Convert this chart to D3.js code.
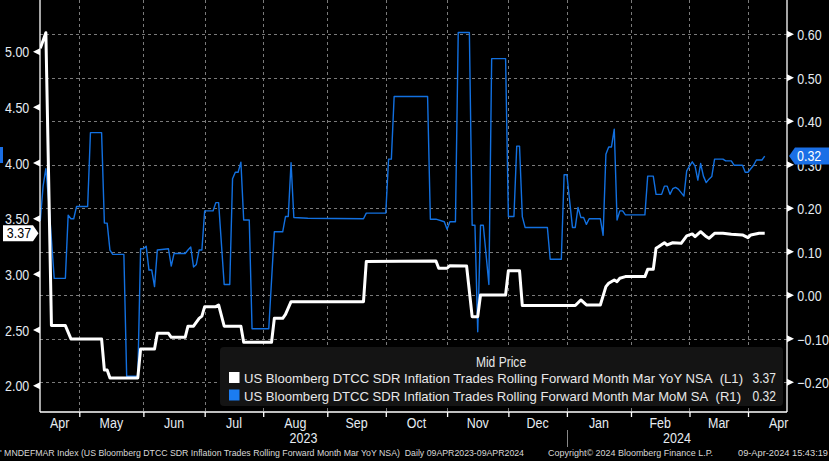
<!DOCTYPE html>
<html><head><meta charset="utf-8">
<script src="https://cdn.jsdelivr.net/npm/d3@7"></script>
<style>html,body{margin:0;padding:0;background:#000;overflow:hidden}</style>
</head><body><svg id="c" width="829" height="461"></svg>
<script>
// ---------------- DATA ----------------
const yoyPoints = [
["2023-04-11",5.03],["2023-04-13",5.17],["2023-04-17",2.54],["2023-04-24",2.54],["2023-04-26",2.42],
["2023-05-11",2.42],["2023-05-12",2.14],["2023-05-15",2.14],["2023-05-16",2.07],["2023-05-30",2.07],
["2023-05-31",2.33],["2023-06-07",2.33],["2023-06-08",2.47],["2023-06-14",2.47],["2023-06-15",2.435],
["2023-06-22",2.435],["2023-06-23",2.535],["2023-06-27",2.535],["2023-06-29",2.605],["2023-06-30",2.625],
["2023-07-03",2.71],["2023-07-07",2.71],["2023-07-10",2.725],["2023-07-12",2.535],["2023-07-20",2.535],
["2023-07-21",2.39],["2023-08-04",2.39],["2023-08-07",2.605],["2023-08-10",2.605],["2023-08-11",2.64],
["2023-08-15",2.755],["2023-09-20",2.755],["2023-09-21",3.115],["2023-10-26",3.12],["2023-10-27",3.055],
["2023-11-01",3.055],["2023-11-02",3.078],["2023-11-10",3.075],["2023-11-14",2.62],["2023-11-16",2.62],
["2023-11-17",2.815],["2023-11-30",2.815],["2023-12-01",3.033],["2023-12-07",3.033],["2023-12-08",2.72],
["2024-01-04",2.72],["2024-01-08",2.77],["2024-01-10",2.725],["2024-01-17",2.725],["2024-01-19",2.89],
["2024-01-22",2.92],["2024-01-24",2.95],["2024-01-25",2.935],["2024-01-26",2.965],["2024-01-30",2.98],
["2024-02-08",2.98],["2024-02-09",3.045],["2024-02-13",3.045],["2024-02-14",3.234],["2024-02-15",3.25],
["2024-02-19",3.284],["2024-02-20",3.264],["2024-02-22",3.284],["2024-02-27",3.279],["2024-02-29",3.345],
["2024-03-04",3.363],["2024-03-05",3.339],["2024-03-07",3.383],["2024-03-11",3.34],["2024-03-12",3.324],
["2024-03-14",3.369],["2024-03-19",3.37],["2024-03-22",3.36],["2024-03-28",3.354],["2024-04-01",3.33],
["2024-04-02",3.354],["2024-04-05",3.37],["2024-04-09",3.37]
];
const momPoints = [
["2023-04-11",0.171],["2023-04-12",0.251],["2023-04-13",0.291],["2023-04-14",0.217],["2023-04-18",0.039],
["2023-04-24",0.039],["2023-04-25",0.184],["2023-04-26",0.176],["2023-04-27",0.176],["2023-04-28",0.204],
["2023-05-04",0.204],["2023-05-05",0.374],["2023-05-11",0.374],["2023-05-12",0.166],["2023-05-15",0.166],
["2023-05-16",0.104],["2023-05-17",0.094],["2023-05-23",0.094],["2023-05-24",-0.186],["2023-05-30",-0.186],
["2023-05-31",0.107],["2023-06-01",0.107],["2023-06-02",0.113],["2023-06-05",0.058],["2023-06-06",0.058],
["2023-06-07",0.02],["2023-06-08",0.104],["2023-06-14",0.107],["2023-06-15",0.067],["2023-06-16",0.096],
["2023-06-22",0.096],["2023-06-23",0.104],["2023-06-26",0.111],["2023-06-27",0.065],["2023-06-28",0.071],
["2023-06-29",0.104],["2023-06-30",0.104],["2023-07-03",0.194],["2023-07-06",0.194],["2023-07-07",0.213],
["2023-07-10",0.213],["2023-07-12",0.025],["2023-07-14",0.025],["2023-07-17",0.268],["2023-07-18",0.283],
["2023-07-19",0.283],["2023-07-20",0.306],["2023-07-21",0.173],["2023-07-25",0.173],["2023-07-26",-0.077],
["2023-08-03",-0.077],["2023-08-07",0.146],["2023-08-10",0.146],["2023-08-11",0.181],["2023-08-14",0.181],
["2023-08-15",0.305],["2023-08-16",0.179],["2023-08-23",0.177],["2023-09-20",0.176],["2023-09-21",0.189],
["2023-10-02",0.189],["2023-10-03",0.313],["2023-10-04",0.313],["2023-10-05",0.457],["2023-10-23",0.457],
["2023-10-24",0.175],["2023-10-26",0.175],["2023-10-31",0.169],["2023-11-01",0.152],["2023-11-02",0.169],
["2023-11-06",0.169],["2023-11-07",0.604],["2023-11-13",0.604],["2023-11-14",0.161],["2023-11-15",0.161],
["2023-11-16",-0.084],["2023-11-17",0.161],["2023-11-20",0.161],["2023-11-22",0.025],["2023-11-23",0.544],
["2023-11-30",0.544],["2023-12-01",0.181],["2023-12-05",0.181],["2023-12-06",0.343],["2023-12-07",0.343],
["2023-12-08",0.181],["2023-12-11",0.156],["2023-12-21",0.156],["2023-12-22",0.083],["2023-12-28",0.083],
["2023-12-29",0.277],["2024-01-01",0.277],["2024-01-03",0.156],["2024-01-04",0.156],["2024-01-05",0.202],
["2024-01-08",0.179],["2024-01-09",0.179],["2024-01-10",0.163],["2024-01-11",0.176],["2024-01-17",0.176],
["2024-01-18",0.138],["2024-01-19",0.324],["2024-01-22",0.341],["2024-01-23",0.341],["2024-01-24",0.382],
["2024-01-25",0.173],["2024-01-26",0.194],["2024-01-29",0.194],["2024-01-30",0.185],["2024-02-08",0.185],
["2024-02-09",0.274],["2024-02-13",0.274],["2024-02-14",0.232],["2024-02-16",0.232],["2024-02-19",0.251],
["2024-02-20",0.251],["2024-02-21",0.232],["2024-02-22",0.245],["2024-02-23",0.248],["2024-02-26",0.244],
["2024-02-28",0.228],["2024-02-29",0.286],["2024-03-01",0.297],["2024-03-04",0.307],["2024-03-05",0.297],
["2024-03-06",0.265],["2024-03-07",0.303],["2024-03-08",0.274],["2024-03-11",0.259],["2024-03-12",0.267],
["2024-03-13",0.273],["2024-03-14",0.313],["2024-03-19",0.313],["2024-03-20",0.309],["2024-03-22",0.309],
["2024-03-25",0.299],["2024-03-28",0.299],["2024-03-29",0.283],["2024-04-01",0.283],["2024-04-03",0.299],
["2024-04-04",0.311],["2024-04-08",0.311],["2024-04-09",0.32]
];
const monthStarts = ["2023-04-01","2023-05-01","2023-06-01","2023-07-01","2023-08-01","2023-09-01","2023-10-01",
  "2023-11-01","2023-12-01","2024-01-01","2024-02-01","2024-03-01","2024-04-01","2024-05-01"];
const monthLabels = ["Apr","May","Jun","Jul","Aug","Sep","Oct","Nov","Dec","Jan","Feb","Mar","Apr"];
const yearLabels = ["2023","2024"];
const yearStarts = ["2023-01-01","2024-01-01","2025-01-01"];
const leftTicks = [2.0,2.5,3.0,3.5,4.0,4.5,5.0];
const leftMinor = [2.25,2.75,3.25,3.75,4.25,4.75,5.25];
const rightTicks = [-0.2,-0.1,0.0,0.1,0.2,0.3,0.4,0.5,0.6];
const rightMinor = [-0.25,-0.15,-0.05,0.05,0.15,0.25,0.35,0.45,0.55,0.65];
const legendTitle = "Mid Price";
const seriesNames = ["US Bloomberg DTCC SDR Inflation Trades Rolling Forward Month Mar YoY NSA\u00A0\u00A0(L1)",
                     "US Bloomberg DTCC SDR Inflation Trades Rolling Forward Month Mar MoM SA\u00A0\u00A0(R1)"];
const lastValues = ["3.37","0.32"];
const footerLeft = "' MNDEFMAR Index (US Bloomberg DTCC SDR Inflation Trades Rolling Forward Month Mar YoY NSA)\u00A0\u00A0Daily 09APR2023-09APR2024";
const footerMid = "Copyright\u00A9 2024 Bloomberg Finance L.P.";
const footerRight = "09-Apr-2024 15:43:19";

// ---------------- SETUP ----------------
const W = 829, H = 461;
const P = {l:40, r:787, t:0, b:412};
const WHITE = "#ffffff", BLUE = "#1270e0", LBL = "#e6ecf2";
const FONT = "'Liberation Sans', Arial, sans-serif";
const SX = 0.86;
const svg = d3.select("#c");
svg.append("rect").attr("width",W).attr("height",H).attr("fill","#000");

const parse = d3.timeParse("%Y-%m-%d");
const base = new Date(2023,3,10); // Monday
function bizIndex(d){ const days = d3.timeDay.count(base,d); const w = Math.floor(days/7); const r = days - w*7; return w*5 + Math.min(r,5); }

const x = d3.scaleLinear().domain([15,255]).range([79.3,748]);
const yL = d3.scaleLinear().domain([2,5]).range([385.7,51.7]);
const yR = d3.scaleLinear().domain([-0.2,0.6]).range([382.3,34.3]);

const defs = svg.append("defs");
defs.append("clipPath").attr("id","clip").append("rect")
  .attr("x",P.l).attr("y",P.t).attr("width",P.r-P.l).attr("height",P.b-P.t);

// grid
const grid = svg.append("g").attr("stroke","#7a7a7a").attr("stroke-width",1).attr("stroke-dasharray","3,3");
rightTicks.forEach(v=>{ const yy = Math.round(yR(v))+0.5;
  grid.append("line").attr("x1",P.l).attr("x2",P.r).attr("y1",yy).attr("y2",yy); });
const msIdx = monthStarts.map(s=>bizIndex(parse(s)));
msIdx.forEach(i=>{ const xx = x(i); if (xx>P.l+2 && xx<P.r-2){ const X = Math.round(xx)+0.5;
  grid.append("line").attr("x1",X).attr("x2",X).attr("y1",P.t).attr("y2",P.b); }});

// series
const lines = svg.append("g").attr("clip-path","url(#clip)");
const momData = momPoints.map(d=>({i:bizIndex(parse(d[0])), v:d[1]}));
const yoyData = yoyPoints.map(d=>({i:bizIndex(parse(d[0])), v:d[1]}));
lines.append("path").datum(momData).attr("fill","none").attr("stroke",BLUE).attr("stroke-width",1.4)
  .attr("stroke-linejoin","round")
  .attr("d", d3.line().x(d=>x(d.i)).y(d=>yR(d.v)));
lines.append("path").datum(yoyData).attr("fill","none").attr("stroke",WHITE).attr("stroke-width",3)
  .attr("stroke-linejoin","round")
  .attr("d", d3.line().x(d=>x(d.i)).y(d=>yL(d.v)));

// axes lines
const ax = svg.append("g").attr("stroke",WHITE).attr("stroke-width",1.3);
ax.append("line").attr("x1",P.l).attr("x2",P.l).attr("y1",0).attr("y2",P.b);
ax.append("line").attr("x1",P.r).attr("x2",P.r).attr("y1",0).attr("y2",P.b);
ax.append("line").attr("x1",P.l).attr("x2",P.r).attr("y1",P.b).attr("y2",P.b);

// left axis
const gL = svg.append("g").attr("transform",`translate(${P.l},0)`);
gL.call(d3.axisLeft(yL).tickValues(leftMinor).tickSize(4).tickFormat(""));
gL.call(d3.axisLeft(yL).tickValues(leftTicks).tickSize(0).tickPadding(12.5).tickFormat(d3.format(".2f")));
gL.selectAll(".domain").remove();
gL.selectAll("line").attr("stroke",WHITE).attr("stroke-width",1.3);
gL.selectAll("text").attr("fill",LBL).attr("font-size",14.5).attr("font-family",FONT)
  .attr("transform",`scale(${SX},1)`).attr("dy","0.36em");
leftTicks.forEach(v=>{ const yy=yL(v);
  svg.append("path").attr("d",`M${P.l},${yy-3.5}L${P.l-7},${yy}L${P.l},${yy+3.5}Z`).attr("fill",WHITE); });

// right axis
const gR = svg.append("g").attr("transform",`translate(${P.r},0)`);
gR.call(d3.axisRight(yR).tickValues(rightMinor.filter(v=>yR(v)>2&&yR(v)<P.b)).tickSize(4).tickFormat(""));
gR.call(d3.axisRight(yR).tickValues(rightTicks).tickSize(0).tickPadding(12).tickFormat(d3.format(".2f")));
gR.selectAll(".domain").remove();
gR.selectAll("line").attr("stroke",WHITE).attr("stroke-width",1.3);
gR.selectAll("text").attr("fill",LBL).attr("font-size",14.5).attr("font-family",FONT)
  .attr("transform",`scale(${SX},1)`).attr("dy","0.36em");
rightTicks.forEach(v=>{ const yy=yR(v);
  svg.append("path").attr("d",`M${P.r},${yy-3.5}L${P.r+7},${yy}L${P.r},${yy+3.5}Z`).attr("fill",WHITE); });

// bottom axis
const gB = svg.append("g").attr("transform",`translate(0,${P.b})`);
gB.call(d3.axisBottom(x).tickValues(msIdx.filter(i=>x(i)>P.l+2 && x(i)<P.r)).tickSize(5).tickFormat(""));
gB.selectAll(".domain").remove();
gB.selectAll("line").attr("stroke",WHITE).attr("stroke-width",1.3);

function ctext(g, xx, yy, t, size, fill, anchor){
  return g.append("text").attr("transform",`translate(${xx},${yy}) scale(${SX},1)`)
    .attr("text-anchor",anchor||"middle").attr("font-family",FONT).attr("font-size",size).attr("fill",fill).text(t);
}
monthLabels.forEach((m,k)=>{
  const a = Math.max(x(msIdx[k]),P.l), b = x(msIdx[k+1]);
  ctext(svg,(a+b)/2,428,m,14.5,LBL);
});
yearLabels.forEach((yl,k)=>{
  const a = Math.max(x(bizIndex(parse(yearStarts[k]))),P.l), b = Math.min(x(bizIndex(parse(yearStarts[k+1]))),P.r);
  ctext(svg,(a+b)/2,443,yl,14.5,LBL);
});
const sepX = Math.round(x(bizIndex(parse(yearStarts[1]))))+0.5;
svg.append("line").attr("x1",sepX).attr("x2",sepX).attr("y1",430).attr("y2",447).attr("stroke","#888").attr("stroke-width",1);

// legend
const lg = svg.append("g");
lg.append("rect").attr("x",220).attr("y",347).attr("width",563).attr("height",59).attr("rx",4).attr("fill","#141414");
ctext(lg,501,367,legendTitle,14,"#e8e8e8");
[WHITE,"#1b7cf2"].forEach((c,k)=>{
  const yy = 383 + k*17.5;
  lg.append("rect").attr("x",229).attr("y",yy-11).attr("width",10.5).attr("height",11).attr("fill",c);
  lg.append("text").attr("x",244).attr("y",yy).attr("font-family",FONT).attr("font-size",13).attr("fill","#e8e8e8")
    .attr("textLength",k===0?499:497).attr("lengthAdjust","spacingAndGlyphs").text(seriesNames[k]);
  ctext(lg,776,yy,lastValues[k],14,"#e8e8e8","end");
});

// value labels
const yv = yL(yoyPoints[yoyPoints.length-1][1]);
svg.append("path").attr("d",`M3,${yv-8}H33L38.5,${yv}L33,${yv+8}H3Z`).attr("fill",WHITE);
ctext(svg,19,yv+5,lastValues[0],14.5,"#000");
const yb = yR(momPoints[momPoints.length-1][1]);
svg.append("path").attr("d",`M789,${yb}L795,${yb-8.5}H829V${yb+8.5}H795Z`).attr("fill","#1a6fe6");
ctext(svg,797,yb+5,lastValues[1],14.5,"#fff","start");
svg.append("rect").attr("x",0).attr("y",147).attr("width",3).attr("height",16).attr("fill","#1a6fe6");

// footer
const ff = FONT;
svg.append("text").attr("x",0).attr("y",456).attr("font-family",ff).attr("font-size",9).attr("fill","#d8d8d8")
  .attr("textLength",524).attr("lengthAdjust","spacingAndGlyphs").text(footerLeft);
svg.append("text").attr("x",548).attr("y",456).attr("font-family",ff).attr("font-size",9).attr("fill","#d8d8d8")
  .attr("textLength",165).attr("lengthAdjust","spacingAndGlyphs").text(footerMid);
svg.append("text").attr("x",738).attr("y",456).attr("font-family",ff).attr("font-size",9).attr("fill","#d8d8d8")
  .attr("textLength",90).attr("lengthAdjust","spacingAndGlyphs").text(footerRight);
</script></body></html>
